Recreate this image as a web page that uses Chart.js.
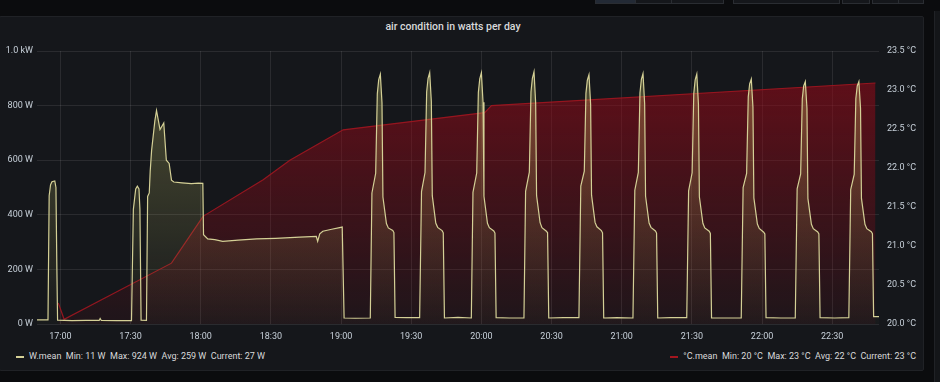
<!DOCTYPE html>
<html>
<head>
<meta charset="utf-8">
<script src="https://cdn.jsdelivr.net/npm/chart.js@4.4.1/dist/chart.umd.min.js"></script>
<style>
  html, body { margin: 0; padding: 0; background: #0b0c0e; width: 940px; height: 382px; overflow: hidden; font-family: Roboto, "Noto Sans", sans-serif; }
  #panel { position: absolute; left: -1px; top: 16px; width: 923px; height: 353px; background: #15171b; border: 1px solid #202226; border-radius: 2px; }
  #side { position: absolute; left: 934px; top: 11px; width: 10px; height: 380px; background: #141619; border-left: 1px solid #202226; }
  .btn { position: absolute; top: -20px; height: 22px; background: #15171b; border: 1px solid #2a2d32; }
  #title { position: absolute; left: 0; top: 20px; width: 906px; text-align: center; color: #d8d9da; font-size: 10.5px; font-weight: 500; line-height: 14px; }
  #wrap { position: absolute; left: 0; top: 0; width: 940px; height: 345px; }
  .leg { position: absolute; top: 350px; font-size: 9px; color: #d8d9da; white-space: pre; line-height: 12px; }
  .dash { display: inline-block; width: 8px; height: 2px; vertical-align: middle; margin-right: 5px; position: relative; top: 0px; }
</style>
</head>
<body>
<div id="panel"></div>
<div id="side"></div>
<div class="btn" style="left:595px;width:39px;background:#232a35;"></div>
<div class="btn" style="left:635px;width:35px;"></div>
<div class="btn" style="left:671px;width:51px;"></div>
<div class="btn" style="left:733px;width:105px;"></div>
<div class="btn" style="left:842px;width:26px;"></div>
<div class="btn" style="left:872px;width:26px;"></div>
<div class="btn" style="left:898px;width:24px;"></div>
<div id="title">air condition in watts per day</div>
<div id="wrap"><canvas id="c"></canvas></div>
<div class="leg" style="left:16px;"><span class="dash" style="background:#d4d096;"></span>W.mean  Min: 11 W  Max: 924 W  Avg: 259 W  Current: 27 W</div>
<div class="leg" style="right:24px;"><span class="dash" style="background:#a3161f;"></span>°C.mean  Min: 20 °C  Max: 23 °C  Avg: 22 °C  Current: 23 °C</div>
<script>
// time in minutes since midnight
const timeTickLabels = ['17:00','17:30','18:00','18:30','19:00','19:30','20:00','20:30','21:00','21:30','22:00','22:30'];
const xRange = ['16:50', '22:50'];

const wTimes = [
  1010.0,1014.7,1015.2,1015.8,1016.4,1017.6,1018.1,1018.5,1018.8,1025.0,1031.0,1036.6,1037.0,1037.5,1044.0,
  1050.4,1051.2,1052.2,1052.9,1053.6,1054.0,1054.5,1056.8,1057.3,1058.0,1058.4,1059.0,1060.4,1061.1,1062.6,
  1064.2,1065.3,1066.5,1067.5,1068.5,1072.0,1076.0,1079.0,1080.9,1081.2,1083.0,1086.0,1089.4,1096.0,1103.9,
  1112.0,1122.3,1129.4,1130.0,1130.9,1132.2,1136.0,1140.5,1141.3,1146.0,1152.5,
  1153.2,1154.8,1155.5,1156.1,1156.8,1157.5,1157.9,1159.4,1160.2,1162.1,1162.6,1163.1,1168.0,
  1173.6,1174.4,1175.9,1176.6,1177.2,1177.9,1178.6,1179.0,1180.5,1181.3,1183.2,1183.7,1184.2,1190.0,
  1195.7,1196.4,1198.0,1198.7,1199.3,1200.0,1200.7,1201.1,1202.6,1203.4,1205.3,1205.8,1206.3,1212.0,
  1218.2,1218.9,1220.5,1221.2,1221.8,1222.5,1223.2,1223.6,1225.1,1225.9,1227.8,1228.3,1228.8,1235.0,
  1241.7,1242.5,1244.0,1244.7,1245.3,1246.0,1246.7,1247.1,1248.6,1249.4,1251.3,1251.8,1252.3,1258.0,
  1264.8,1265.6,1267.1,1267.8,1268.4,1269.1,1269.8,1270.2,1271.7,1272.5,1274.4,1274.9,1275.4,1281.0,
  1287.8,1288.6,1290.1,1290.8,1291.4,1292.1,1292.8,1293.2,1294.7,1295.5,1297.4,1297.9,1298.4,1304.0,
  1311.1,1311.9,1313.4,1314.1,1314.7,1315.4,1316.1,1316.5,1318.0,1318.8,1320.7,1321.2,1321.7,1328.0,
  1334.2,1335.0,1336.5,1337.2,1337.8,1338.5,1339.2,1339.6,1341.1,1341.9,1343.8,1344.3,1344.8,1351.0,
  1357.1,1357.9,1359.4,1360.1,1360.7,1361.4,1362.1,1362.5,1364.0,1364.8,1366.7,1367.2,1367.7,1370.0
];
const wValues = [
  15,15,470,510,521,524,500,200,14,12,13,13,20,13,12,
  12,420,495,505,495,420,14,13,467,480,560,636,745,782,712,
  736,600,588,527,520,517,514,516,515,327,312,309,303,307,312,
  314,318,321,303,330,340,347,355,22,21,22,
  480,552,843,895,915,810,465,368,352,343,335,24,23,
  23,485,555,850,900,921,815,470,370,354,342,334,22,24,
  22,482,553,848,898,920,812,468,369,353,341,333,23,22,
  22,486,556,850,900,924,810,470,371,353,340,334,22,23,
  23,505,560,845,893,913,805,472,372,356,342,334,22,23,
  22,490,555,846,896,917,808,468,370,354,341,333,22,23,
  23,488,554,843,894,915,806,466,369,352,340,332,22,22,
  22,500,552,832,880,897,795,462,366,350,336,330,23,22,
  22,495,550,825,872,888,790,460,365,349,337,330,23,22,
  23,492,548,826,872,888,790,460,365,349,338,331,27,27
];

const tempTimes  = [1019.1, 1021.6, 1067.5, 1081.0, 1106.7, 1118.1, 1140.9, 1201.4, 1204.3, 1368.5];
const tempValues = [20.27, 20.06, 20.78, 21.38, 21.85, 22.10, 22.49, 22.71, 22.80, 23.09];

const wTicks = [0, 200, 400, 600, 800, 1000];
const tempTicks = [20.0, 20.5, 21.0, 21.5, 22.0, 22.5, 23.0, 23.5];

function toMin(s) { const p = s.split(':'); return (+p[0]) * 60 + (+p[1]); }
function fmtW(v) { return v >= 1000 ? (v / 1000).toFixed(1) + ' kW' : v + ' W'; }

const wData = wTimes.map((t, i) => ({ x: t, y: wValues[i] }));
const tData = tempTimes.map((t, i) => ({ x: t, y: tempValues[i] }));
const xTickVals = timeTickLabels.map(toMin);

function grad(stops) {
  return function (ctx) {
    const chart = ctx.chart, a = chart.chartArea;
    if (!a) return 'transparent';
    const g = chart.ctx.createLinearGradient(0, a.top, 0, a.bottom);
    stops.forEach(s => g.addColorStop(s[0], s[1]));
    return g;
  };
}

const tickColor = '#c7d0d9';
const gridColor = 'rgba(255,255,255,0.09)';
const tickFont = { family: 'Roboto', size: 9 };

new Chart(document.getElementById('c'), {
  type: 'line',
  data: {
    datasets: [
      {
        label: 'W.mean',
        data: wData,
        yAxisID: 'y',
        borderColor: '#d4d096',
        borderWidth: 1.2,
        pointRadius: 0,
        tension: 0,
        fill: 'origin',
        backgroundColor: grad([[0, 'rgba(210,208,110,0.32)'], [1, 'rgba(210,208,110,0.02)']])
      },
      {
        label: '°C.mean',
        data: tData,
        yAxisID: 'y1',
        borderColor: 'rgba(160,22,32,0.9)',
        borderWidth: 1.2,
        pointRadius: 0,
        tension: 0,
        fill: 'start',
        backgroundColor: grad([[0, 'rgba(145,10,24,0.66)'], [1, 'rgba(145,10,24,0.08)']])
      }
    ]
  },
  options: {
    responsive: true,
    maintainAspectRatio: false,
    animation: false,
    layout: { padding: { top: 51, left: 0, right: 0, bottom: 0 } },
    plugins: { legend: { display: false }, title: { display: false }, tooltip: { enabled: false } },
    scales: {
      x: {
        type: 'linear',
        min: toMin(xRange[0]),
        max: toMin(xRange[1]),
        afterBuildTicks: s => { s.ticks = xTickVals.map(v => ({ value: v })); },
        afterFit: s => { s.height = 21; },
        ticks: {
          color: tickColor, font: tickFont, padding: 7, maxRotation: 0, autoSkip: false,
          callback: v => { const i = xTickVals.indexOf(v); return i >= 0 ? timeTickLabels[i] : ''; }
        },
        grid: { color: gridColor, drawTicks: false },
        border: { display: false }
      },
      y: {
        position: 'left',
        min: 0, max: 1000,
        afterBuildTicks: s => { s.ticks = wTicks.map(v => ({ value: v })); },
        afterFit: s => { s.width = 37; },
        ticks: { color: tickColor, font: tickFont, padding: 4, callback: v => fmtW(v) },
        grid: { color: gridColor, drawTicks: false },
        border: { display: false }
      },
      y1: {
        position: 'right',
        min: 20, max: 23.5,
        afterBuildTicks: s => { s.ticks = tempTicks.map(v => ({ value: v })); },
        afterFit: s => { s.width = 61; },
        ticks: { color: tickColor, font: tickFont, padding: 8, callback: v => v.toFixed(1) + ' °C' },
        grid: { display: false, drawTicks: false },
        border: { display: false }
      }
    }
  }
});
</script>
</body>
</html>
